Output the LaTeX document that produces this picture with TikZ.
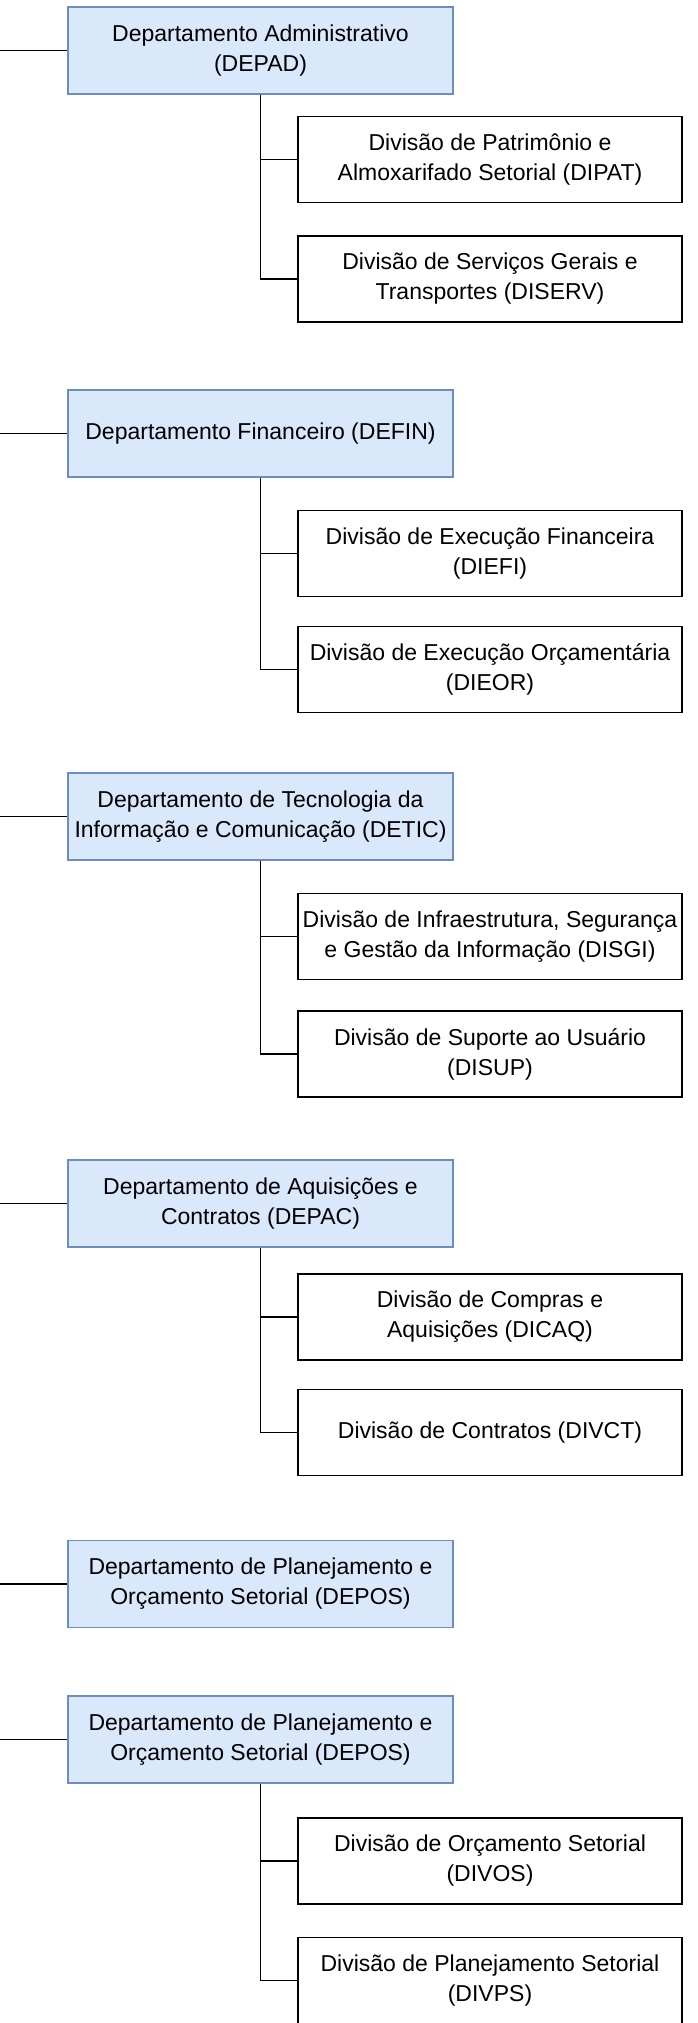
\documentclass[tikz,border=0pt]{standalone}
\usepackage{fontspec}
\setmainfont{Liberation Sans}
\usepackage{tikz}
\tikzset{every picture/.style={line width=1.1pt}}
\definecolor{deptfill}{RGB}{218,232,252}
\definecolor{deptdraw}{RGB}{108,142,191}
\tikzset{
  dept/.style={draw=deptdraw, fill=deptfill, inner sep=0pt, align=center,
    minimum width=288.75pt, minimum height=65.25pt,
    font=\fontsize{17.25pt}{22.5pt}\selectfont},
  divbox/.style={draw=black, fill=white, inner sep=0pt, align=center,
    minimum width=288pt, minimum height=64.5pt,
    font=\fontsize{17.25pt}{22.5pt}\selectfont},
  tie/.style={draw=black}
}

\begin{document}
\begin{tikzpicture}[x=0.75pt,y=0.75pt,yscale=-1,xscale=1]
%set diagram left start at 0, and has height of 2023
\useasboundingbox (0,0) rectangle (697,2023);

%Shape: Rectangle [DEPAD]
\node [dept] (depad) at (260.5,50.5) {Departamento Administrativo\\(DEPAD)};
\node [divbox] (dipat) at (490,159.5) {Divisão de Patrimônio e\\Almoxarifado Setorial (DIPAT)};
\node [divbox] (diserv) at (490,279) {Divisão de Serviços Gerais e\\Transportes (DISERV)};

%Shape: Rectangle [DEFIN]
\node [dept] (defin) at (260.5,433.5) {Departamento Financeiro (DEFIN)};
\node [divbox] (diefi) at (490,553.5) {Divisão de Execução Financeira\\(DIEFI)};
\node [divbox] (dieor) at (490,669.5) {Divisão de Execução Orçamentária\\(DIEOR)};

%Shape: Rectangle [DETIC]
\node [dept] (detic) at (260.5,816.5) {Departamento de Tecnologia da\\Informação e Comunicação (DETIC)};
\node [divbox] (disgi) at (490,936.5) {Divisão de Infraestrutura, Segurança\\e Gestão da Informação (DISGI)};
\node [divbox] (disup) at (490,1054) {Divisão de Suporte ao Usuário\\(DISUP)};

%Shape: Rectangle [DEPAC]
\node [dept] (depac) at (260.5,1203.5) {Departamento de Aquisições e\\Contratos (DEPAC)};
\node [divbox] (dicaq) at (490,1317) {Divisão de Compras e\\Aquisições (DICAQ)};
\node [divbox] (divct) at (490,1432.5) {Divisão de Contratos (DIVCT)};

%Shape: Rectangle [DEPOS]
\node [dept] (depos) at (260.5,1584) {Departamento de Planejamento e\\Orçamento Setorial (DEPOS)};

%Shape: Rectangle [DEPOS, second]
\node [dept] (deposb) at (260.5,1739.5) {Departamento de Planejamento e\\Orçamento Setorial (DEPOS)};
\node [divbox] (divos) at (490,1861) {Divisão de Orçamento Setorial\\(DIVOS)};
\node [divbox] (divps) at (490,1980.5) {Divisão de Planejamento Setorial\\(DIVPS)};

%Free ends on the left border
\coordinate (ldepad) at (0,50.5);
\coordinate (ldefin) at (0,433.5);
\coordinate (ldetic) at (0,816.5);
\coordinate (ldepac) at (0,1203.5);
\coordinate (ldepos) at (0,1584);
\coordinate (ldeposb) at (0,1739.5);

%Straight Lines
\draw [tie] (ldepad) -- (depad.west);
\draw [tie] (ldefin) -- (defin.west);
\draw [tie] (ldetic) -- (detic.west);
\draw [tie] (ldepac) -- (depac.west);
\draw [tie] (ldepos) -- (depos.west);
\draw [tie] (ldeposb) -- (deposb.west);

%Elbow Lines
\draw [tie] (depad.south) |- (dipat.west);
\draw [tie] (depad.south) |- (diserv.west);
\draw [tie] (defin.south) |- (diefi.west);
\draw [tie] (defin.south) |- (dieor.west);
\draw [tie] (detic.south) |- (disgi.west);
\draw [tie] (detic.south) |- (disup.west);
\draw [tie] (depac.south) |- (dicaq.west);
\draw [tie] (depac.south) |- (divct.west);
\draw [tie] (deposb.south) |- (divos.west);
\draw [tie] (deposb.south) |- (divps.west);

\end{tikzpicture}
\end{document}
